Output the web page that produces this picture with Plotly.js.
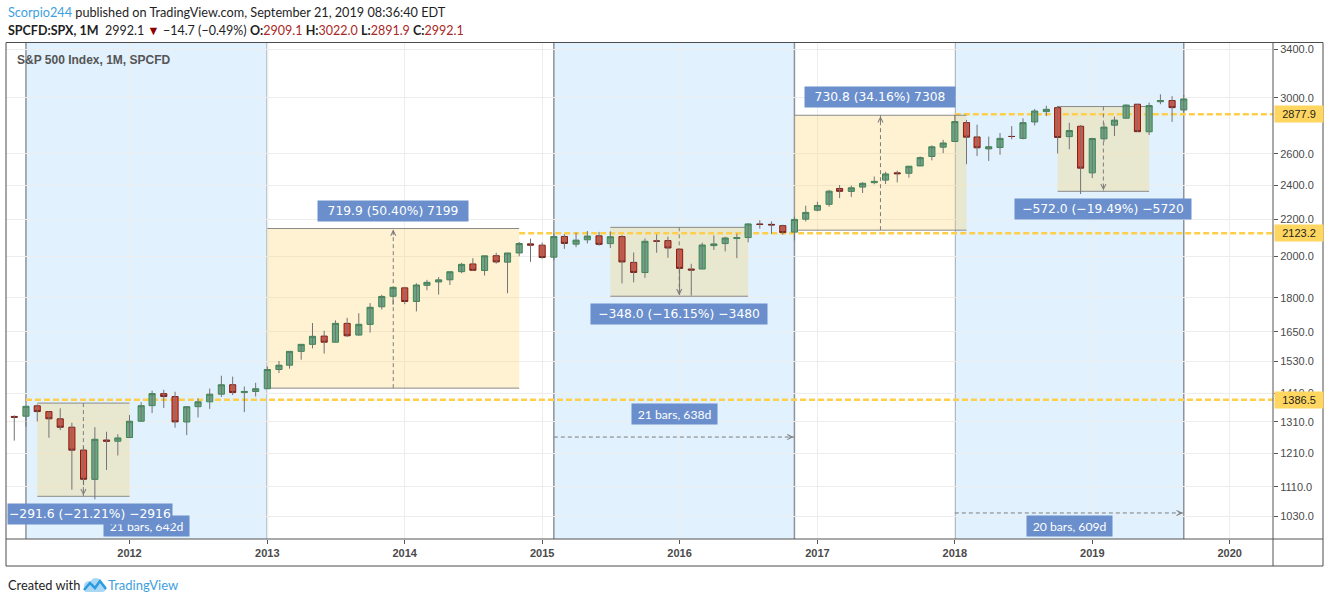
<!DOCTYPE html>
<html><head><meta charset="utf-8">
<script src="https://cdn.plot.ly/plotly-3.0.1.min.js"></script>
<style>html,body{margin:0;padding:0;background:#fff;overflow:hidden}#chart{width:1330px;height:603px}</style>
</head><body><div id="chart"></div>
<script>
// ---------------- DATA ----------------
const months = [
 '2011-03','2011-04','2011-05','2011-06','2011-07','2011-08','2011-09','2011-10','2011-11','2011-12',
 '2012-01','2012-02','2012-03','2012-04','2012-05','2012-06','2012-07','2012-08','2012-09','2012-10','2012-11','2012-12',
 '2013-01','2013-02','2013-03','2013-04','2013-05','2013-06','2013-07','2013-08','2013-09','2013-10','2013-11','2013-12',
 '2014-01','2014-02','2014-03','2014-04','2014-05','2014-06','2014-07','2014-08','2014-09','2014-10','2014-11','2014-12',
 '2015-01','2015-02','2015-03','2015-04','2015-05','2015-06','2015-07','2015-08','2015-09','2015-10','2015-11','2015-12',
 '2016-01','2016-02','2016-03','2016-04','2016-05','2016-06','2016-07','2016-08','2016-09','2016-10','2016-11','2016-12',
 '2017-01','2017-02','2017-03','2017-04','2017-05','2017-06','2017-07','2017-08','2017-09','2017-10','2017-11','2017-12',
 '2018-01','2018-02','2018-03','2018-04','2018-05','2018-06','2018-07','2018-08','2018-09','2018-10','2018-11','2018-12',
 '2019-01','2019-02','2019-03','2019-04','2019-05','2019-06','2019-07','2019-08','2019-09'];
const openP = [
 1328.6,1329.5,1365.2,1345.2,1320.6,1292.6,1219.1,1131.2,1251.0,1246.9,
 1258.9,1312.5,1365.9,1408.5,1397.9,1309.9,1362.3,1379.3,1406.5,1440.9,1412.2,1416.2,
 1426.2,1498.1,1514.7,1569.2,1597.6,1631.7,1606.4,1685.7,1636.0,1681.3,1758.7,1806.6,
 1845.9,1782.7,1857.7,1874.0,1884.4,1923.9,1962.3,1929.8,2004.1,1971.4,2018.2,2065.8,
 2058.9,1996.7,2105.2,2064.1,2087.4,2108.6,2067.0,2104.5,1970.1,1919.7,2080.8,2082.9,
 2038.2,1936.9,1937.1,2056.6,2067.2,2093.9,2099.3,2173.2,2171.3,2164.3,2128.7,2200.2,
 2251.6,2285.6,2380.1,2362.3,2388.5,2415.6,2431.4,2477.1,2474.4,2521.2,2583.2,2645.1,
 2683.7,2816.5,2715.2,2633.5,2643.0,2718.7,2705.0,2821.2,2897.0,2926.3,2717.6,2790.5,
 2477.0,2702.3,2798.2,2848.6,2952.3,2751.5,2971.4,2980.3,2909.1];
const highP = [
 1332.3,1364.6,1370.6,1345.2,1356.5,1307.4,1229.3,1292.7,1277.6,1269.4,
 1333.5,1378.0,1419.2,1422.4,1415.3,1363.5,1391.7,1426.7,1474.5,1471.0,1434.3,1448.0,
 1509.9,1530.9,1570.3,1597.6,1687.2,1654.2,1698.8,1709.7,1729.9,1775.2,1813.6,1849.4,
 1850.8,1867.9,1884.0,1897.3,1924.0,1968.2,1991.4,2005.0,2019.3,2018.2,2075.8,2093.6,
 2072.4,2119.6,2117.5,2125.9,2134.7,2129.9,2132.8,2112.7,2020.9,2094.3,2116.5,2104.3,
 2038.2,1963.0,2072.2,2111.1,2103.5,2120.6,2177.1,2193.8,2187.9,2169.6,2214.1,2277.5,
 2301.0,2371.5,2401.0,2398.2,2418.7,2453.8,2484.0,2490.9,2519.4,2583.0,2657.7,2695.0,
 2872.9,2836.0,2801.9,2717.5,2742.2,2791.5,2848.0,2916.5,2940.9,2939.9,2815.2,2800.2,
 2709.0,2813.5,2860.3,2949.5,2954.1,2964.2,3028.0,3013.6,3022.0];
const lowP = [
 1249.1,1294.7,1311.8,1258.1,1282.9,1101.5,1114.2,1074.8,1158.7,1202.4,
 1258.9,1312.5,1340.0,1357.4,1291.0,1266.7,1325.4,1354.7,1396.6,1403.3,1343.4,1398.1,
 1426.2,1485.0,1501.5,1536.0,1581.3,1560.3,1606.4,1627.5,1633.4,1646.5,1746.2,1768.0,
 1770.5,1737.9,1834.4,1814.4,1859.8,1916.0,1930.7,1904.8,1964.0,1820.7,2001.0,1972.6,
 1988.1,1980.9,2039.7,2048.4,2067.9,2056.3,2044.0,1867.0,1871.9,1893.7,2019.4,1993.3,
 1812.3,1810.1,1937.1,2033.8,2025.9,1991.7,2074.0,2147.6,2119.1,2114.7,2083.8,2187.4,
 2245.1,2271.7,2322.3,2329.0,2352.7,2405.7,2407.7,2417.4,2446.6,2520.4,2557.5,2605.5,
 2682.4,2532.7,2585.9,2553.8,2594.6,2699.0,2699.0,2796.3,2864.1,2603.5,2631.1,2346.6,
 2444.0,2681.8,2722.3,2848.6,2750.5,2728.8,2952.2,2822.1,2891.9];
const closeP = [
 1325.8,1363.6,1345.2,1320.6,1292.3,1218.9,1131.4,1253.3,1247.0,1257.6,
 1312.4,1365.7,1408.5,1397.9,1310.3,1362.2,1379.3,1406.6,1440.7,1412.2,1416.2,1426.2,
 1498.1,1514.7,1569.2,1597.6,1630.7,1606.3,1685.7,1633.0,1681.6,1756.5,1805.8,1848.4,
 1782.6,1859.5,1872.3,1884.0,1923.6,1960.2,1930.7,2003.4,1972.3,2018.1,2067.6,2058.9,
 1995.0,2104.5,2067.9,2085.5,2107.4,2063.1,2103.8,1972.2,1920.0,2079.4,2080.4,2043.9,
 1940.2,1932.2,2059.7,2065.3,2097.0,2098.9,2173.6,2171.0,2168.3,2126.2,2198.8,2238.8,
 2278.9,2363.6,2362.7,2384.2,2411.8,2423.4,2470.3,2471.7,2519.4,2575.3,2647.6,2673.6,
 2823.8,2713.8,2640.9,2648.1,2705.3,2718.4,2816.3,2901.5,2914.0,2711.7,2760.2,2506.9,
 2704.1,2784.5,2834.4,2945.8,2752.1,2941.8,2980.4,2926.5,2992.1];

const yTicks = [1030,1110,1210,1310,1410,1530,1650,1800,2000,2200,2400,2600,3000,3400];
const yearTicks = ['2012','2013','2014','2015','2016','2017','2018','2019','2020'];

// horizontal levels
const levelValues = [1386.5, 2123.2, 2877.9];
const levelStarts = ['2011-04-01','2014-11-01','2018-01-01'];

// date ranges (blue zones)
const drStart = ['2011-04-01','2015-02-01','2018-01-01'];
const drEnd   = ['2013-01-01','2016-11-01','2019-09-01'];
const drLabels = ['21 bars, 642d','21 bars, 638d','20 bars, 609d'];
const drLinePrice = [null, 1260.4, 1038.0];
const drLabelPrice = [1004.1, 1338.5, 1004.1];

// price ranges
const prStart = ['2011-05-01','2013-01-01','2015-07-01','2016-11-01','2018-10-01'];
const prEnd   = ['2012-01-01','2014-11-01','2016-07-01','2018-02-01','2019-06-01'];
const prFrom  = [1374.8, 1428.4, 2154.8, 2139.3, 2934.8];
const prTo    = [1083.2, 2148.3, 1806.8, 2870.1, 2362.8];
const prLabels = ['\u2212291.6 (\u221221.21%) \u22122916','719.9 (50.40%) 7199','\u2212348.0 (\u221216.15%) \u22123480','730.8 (34.16%) 7308','\u2212572.0 (\u221219.49%) \u22125720'];

// ---------------- STYLE ----------------
const W = 1330, H = 603, L = 6, R = 1273, T = 43, B = 539;
const px = v => (v - L) / (R - L);
const py = v => (B - v) / (B - T);
const prBoxW = [164, 150, 176, 150, 176];
const LABEL_BLUE = '#6a8fcc';
const GREY_LINE = '#8a8a8a';

function ms(d){ const p=d.split('-'); return Date.UTC(+p[0], +p[1]-1, +p[2]); }
function dstr(t){ return new Date(t).toISOString().slice(0,19).replace('T',' '); }
function mid(a,b){ return dstr((ms(a)+ms(b))/2); }

const xDates = months.map(m => m + '-01');
const bodyHigh = openP.map((o,i)=>Math.max(o, closeP[i]));
const bodyLow  = openP.map((o,i)=>Math.min(o, closeP[i]));
const wickX = [], wickY = [];
xDates.forEach((d,i)=>{ wickX.push(d,d,null); wickY.push(lowP[i],highP[i],null); });

const traces = [
 {type:'scatter', mode:'lines', x:wickX, y:wickY, line:{color:'#737375', width:1}, hoverinfo:'skip', showlegend:false, connectgaps:false},
 {type:'candlestick', x:xDates, open:openP, high:bodyHigh, low:bodyLow, close:closeP,
  increasing:{fillcolor:'#6ba583', line:{color:'#3f8556', width:1}},
  decreasing:{fillcolor:'#d75442', line:{color:'#7a2219', width:1}},
  whiskerwidth:0, hoverinfo:'skip', showlegend:false}
];

const xEnd = '2020-04-25';
const shapes = [];
levelValues.forEach((v,i)=>shapes.push({type:'line', layer:'between', xref:'x', yref:'y', x0:levelStarts[i], x1:xEnd, y0:v, y1:v,
  line:{color:'#ffcf4a', width:2.5, dash:'6px,3px'}}));
drStart.forEach((s,i)=>shapes.push({type:'rect', layer:'between', xref:'x', yref:'paper', x0:s, x1:drEnd[i], y0:0, y1:1,
  fillcolor:'rgba(33,150,243,0.135)', line:{width:0}}));
prStart.forEach((s,i)=>{
  const lo = Math.min(prFrom[i], prTo[i]), hi = Math.max(prFrom[i], prTo[i]);
  shapes.push({type:'rect', layer:'between', xref:'x', yref:'y', x0:s, x1:prEnd[i], y0:lo, y1:hi,
    fillcolor:'rgba(250,208,95,0.28)', line:{width:0}});
  shapes.push({type:'line', layer:'between', xref:'x', yref:'y', x0:s, x1:prEnd[i], y0:lo, y1:lo, line:{color:GREY_LINE, width:1}});
  shapes.push({type:'line', layer:'between', xref:'x', yref:'y', x0:s, x1:prEnd[i], y0:hi, y1:hi, line:{color:GREY_LINE, width:1}});
  const m = mid(s, prEnd[i]);
  shapes.push({type:'line', layer:'between', xref:'x', yref:'y', x0:m, x1:m, y0:prFrom[i], y1:prTo[i], line:{color:'#7d7d7d', width:1, dash:'4px,3px'}});
});
drStart.forEach((s,i)=>{ if(drLinePrice[i]!==null) shapes.push({type:'line', layer:'between', xref:'x', yref:'y', x0:s, x1:drEnd[i], y0:drLinePrice[i], y1:drLinePrice[i], line:{color:'#7d7d7d', width:1, dash:'4px,3px'}}); });
drStart.forEach((s,i)=>{
  [s, drEnd[i]].forEach(d=>shapes.push({type:'line', layer:'between', xref:'x', yref:'paper', x0:d, x1:d, y0:0, y1:1, line:{color:'#8e949c', width:1.5}}));
});
const fx1 = px(1323), fy0 = py(566);
shapes.push({type:'rect', layer:'above', xref:'paper', yref:'paper', x0:px(6), x1:fx1, y0:fy0, y1:py(42.5), line:{color:'#4d4d4d', width:1}, fillcolor:'rgba(0,0,0,0)'});
shapes.push({type:'line', layer:'above', xref:'paper', yref:'paper', x0:1, x1:1, y0:fy0, y1:py(42.5), line:{color:'#555', width:1}});
shapes.push({type:'line', layer:'above', xref:'paper', yref:'paper', x0:0, x1:fx1, y0:0, y1:0, line:{color:'#555', width:1}});
// TradingView logo (footer)
shapes.push({type:'path', layer:'above', xref:'paper', yref:'paper', xsizemode:'pixel', ysizemode:'pixel', xanchor:0, yanchor:0,
  path:'M 80 -53 L 96 -53 Q 100 -53 100 -49 Q 100 -45 96 -45 Q 95 -39 90 -39 Q 86 -39 85 -42 Q 78 -42 78 -47 Q 78 -53 80 -53 Z',
  fillcolor:'#a9d8f5', line:{width:0}});
shapes.push({type:'path', layer:'above', xref:'paper', yref:'paper', xsizemode:'pixel', ysizemode:'pixel', xanchor:0, yanchor:0,
  path:'M 78 -51 L 84 -44 L 89 -49 L 94 -42 L 100 -50', line:{color:'#2e9ae0', width:2.5}});

const annotations = [];
const F_LABEL = 'DejaVu Sans, sans-serif';
prStart.forEach((s,i)=>{
  const up = prTo[i] > prFrom[i];
  annotations.push({xref:'x', yref:'y', x:mid(s, prEnd[i]), y:Math.log10(prTo[i]) + (up ? -0.0012 : 0.0012), text:'', showarrow:true,
    ax:0, ay: up ? 7 : -7, arrowhead:5, arrowsize:1, arrowwidth:1, arrowcolor:'#7d7d7d', standoff:0});
});
drStart.forEach((s,i)=>{ if(drLinePrice[i]!==null) annotations.push({xref:'x', yref:'y', x:drEnd[i], y:Math.log10(drLinePrice[i]), text:'', showarrow:true,
  ax:-7, ay:0, arrowhead:5, arrowsize:1, arrowwidth:1, arrowcolor:'#7d7d7d', standoff:1}); });
drStart.forEach((s,i)=>annotations.push({xref:'x', yref:'y', x:mid(s, drEnd[i]), y:Math.log10(drLabelPrice[i]), text:drLabels[i], showarrow:false,
  bgcolor:LABEL_BLUE, font:{family:'Lato, sans-serif', size:12.2, color:'#ffffff'}, width:85, height:20, borderpad:0, xanchor:'center', yanchor:'middle'}));
prStart.forEach((s,i)=>{
  const up = prTo[i] > prFrom[i];
  const a = {xref:'x', yref:'y', x:mid(s, prEnd[i]), y:Math.log10(prTo[i]), yshift: up ? 18 : -18, text:prLabels[i], showarrow:false,
    bgcolor:LABEL_BLUE, font:{family:F_LABEL, size:12.3, color:'#ffffff'}, width:prBoxW[i], height:20, borderpad:0, xanchor:'center', yanchor:'middle'};
  if(i===0){ a.xref='paper'; a.x=px(7); a.xanchor='left'; }
  annotations.push(a);
});
levelValues.forEach(v=>annotations.push({xref:'paper', yref:'y', x:1, xshift:1, y:Math.log10(v), text:v.toFixed(1), showarrow:false,
  xanchor:'left', yanchor:'middle', bgcolor:'#fed660', width:48, height:16, borderpad:0,
  font:{family:'Liberation Sans, Arial, sans-serif', size:11, color:'#1e1e1e'}}));
const HF = "Lato, sans-serif";
annotations.push({xref:'paper', yref:'paper', x:0, y:py(12), xanchor:'left', yanchor:'middle', showarrow:false,
  text:'<span style="color:#3d9fe0">Scorpio244</span> published on TradingView.com, September 21, 2019 08:36:40 EDT',
  font:{family:HF, size:12.7, color:'#1e1e1e'}});
annotations.push({xref:'paper', yref:'paper', x:0, y:py(30), xanchor:'left', yanchor:'middle', showarrow:false,
  text:'<b>SPCFD:SPX, 1M</b>\u00a0 2992.1 <span style="color:#8b0000">\u25BC</span> \u221214.7 (\u22120.49%) <b>O:</b><span style="color:#a8281f">2909.1</span> <b>H:</b><span style="color:#a8281f">3022.0</span> <b>L:</b><span style="color:#a8281f">2891.9</span> <b>C:</b><span style="color:#a8281f">2992.1</span>',
  font:{family:HF, size:12.5, color:'#1e1e1e'}});
annotations.push({xref:'paper', yref:'paper', x:px(15), y:py(60), xanchor:'left', yanchor:'middle', showarrow:false,
  text:'<b>S&amp;P 500 Index, 1M, SPCFD</b>', font:{family:'Liberation Sans, Arial, sans-serif', size:12, color:'#555555'}});
annotations.push({xref:'paper', yref:'paper', x:0, y:py(585), xanchor:'left', yanchor:'middle', showarrow:false,
  text:'Created with', font:{family:HF, size:12.8, color:'#1e1e1e'}});
annotations.push({xref:'paper', yref:'paper', x:px(106), y:py(585), xanchor:'left', yanchor:'middle', showarrow:false,
  text:'TradingView', font:{family:HF, size:13, color:'#3d9fe0'}});

const layout = {
  width:W, height:H, margin:{l:L, r:W-R, t:T, b:H-B, pad:0},
  paper_bgcolor:'#ffffff', plot_bgcolor:'#ffffff', showlegend:false,
  boxgap:0.42, boxgroupgap:0,
  xaxis:{type:'date', range:['2011-02-07','2020-04-25'], rangeslider:{visible:false},
    tickvals:yearTicks.map(y=>y+'-01-01'), ticktext:yearTicks.map(y=>'<b>'+y+'</b>'),
    ticks:'outside', ticklen:4, tickcolor:'#555', showgrid:true, gridcolor:'#ededed', gridwidth:1,
    showline:false, zeroline:false, fixedrange:true,
    tickfont:{family:'Liberation Sans, Arial, sans-serif', size:11, color:'#4a4a4a'}},
  yaxis:{type:'log', side:'right', range:[2.98730, 3.53814], tickvals:yTicks, ticktext:yTicks.map(v=>v.toFixed(1)),
    ticks:'outside', ticklen:4, tickcolor:'#555', showgrid:true, gridcolor:'#ededed', gridwidth:1,
    showline:false, zeroline:false, fixedrange:true,
    tickfont:{family:'Liberation Sans, Arial, sans-serif', size:11, color:'#4a4a4a'}},
  shapes:shapes, annotations:annotations
};
Plotly.newPlot('chart', traces, layout, {displayModeBar:false, staticPlot:true});
</script></body></html>
